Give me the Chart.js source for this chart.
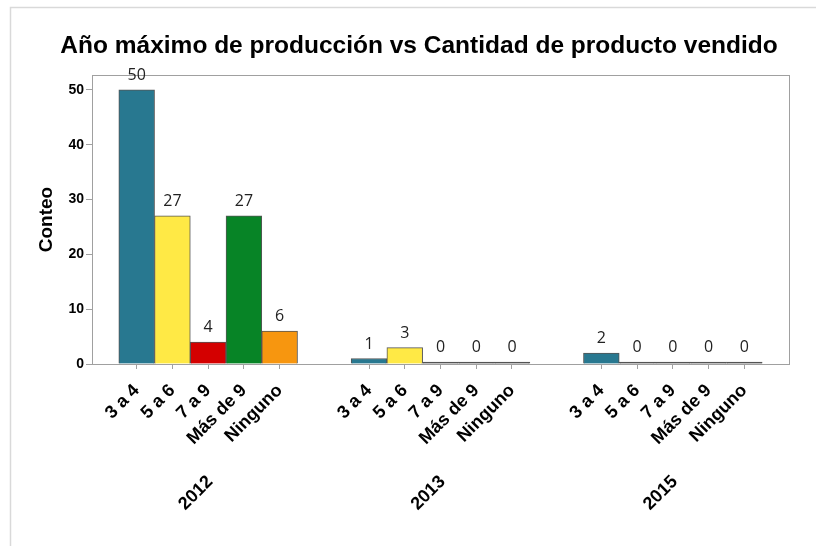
<!DOCTYPE html>
<html lang="es">
<head>
<meta charset="UTF-8">
<title>Año máximo de producción vs Cantidad de producto vendido</title>
<script src="https://cdn.jsdelivr.net/npm/chart.js@4.4.1/dist/chart.umd.min.js"></script>
<style>
    body { margin: 0; background: #fff; }
    canvas { display: block; }
</style>
</head>
<body>
<canvas id="myChart" width="816" height="546"></canvas>
<script>
const years = ["2012", "2013", "2015"];
const categories = ["3 a 4", "5 a 6", "7 a 9", "Más de 9", "Ninguno"];
const counts2012 = [50, 27, 4, 27, 6];
const counts2013 = [1, 3, 0, 0, 0];
const counts2015 = [2, 0, 0, 0, 0];
const yTicks = [0, 10, 20, 30, 40, 50];
const categoryColors = ["#287890", "#ffe945", "#d40000", "#078426", "#f7960f"];

const countsByYear = [counts2012, counts2013, counts2015];
const groupStep = 6.5; // 5 bars + a gap of 1.5 bars between years

// Build the bar points (x = slot on the axis, y = count)
let points = [], barColors = [], tickLabels = {};
countsByYear.forEach((counts, g) => {
    counts.forEach((value, i) => {
        let slot = g * groupStep + i;
        points.push({ x: slot, y: value });
        barColors.push(categoryColors[i]);
        tickLabels[slot] = categories[i];
    });
});

const boldFont = "'Liberation Sans', Arial, sans-serif";

// Outer frame of the picture
const framePlugin = {
    id: "frame",
    beforeDraw(chart) {
        const ctx = chart.ctx;
        ctx.save();
        ctx.fillStyle = "#fff";
        ctx.fillRect(0, 0, chart.width, chart.height);
        ctx.strokeStyle = "#d9d9d9";
        ctx.lineWidth = 1.5;
        ctx.beginPath();
        ctx.moveTo(10.5, chart.height);
        ctx.lineTo(10.5, 7.5);
        ctx.lineTo(chart.width, 7.5);
        ctx.stroke();
        ctx.restore();
    }
};

// Plot box, value labels, titles and year labels
const labelsPlugin = {
    id: "labels",
    afterDraw(chart) {
        const ctx = chart.ctx;
        const area = chart.chartArea;
        const xScale = chart.scales.x;
        ctx.save();

        ctx.strokeStyle = "#a0a0a0";
        ctx.lineWidth = 1;
        ctx.strokeRect(area.left + 0.5, area.top + 0.5, area.right - area.left, area.bottom - area.top);

        // values above the bars
        ctx.fillStyle = "#222";
        ctx.font = "16px 'Open Sans', sans-serif";
        ctx.textAlign = "center";
        ctx.textBaseline = "alphabetic";
        chart.getDatasetMeta(0).data.forEach((bar, i) => {
            ctx.fillText(points[i].y, bar.x, bar.y - 10);
        });

        // main title
        ctx.fillStyle = "#000";
        ctx.font = "bold 24.5px " + boldFont;
        ctx.fillText("Año máximo de producción vs Cantidad de producto vendido", 419, 53);

        // y axis title
        ctx.save();
        ctx.translate(52, (area.top + area.bottom) / 2);
        ctx.rotate(-Math.PI / 2);
        ctx.font = "bold 19px " + boldFont;
        ctx.fillText("Conteo", 0, 0);
        ctx.restore();

        // year labels under each group
        ctx.font = "bold 18px " + boldFont;
        ctx.textAlign = "right";
        ctx.textBaseline = "middle";
        years.forEach((year, g) => {
            let cx = xScale.getPixelForValue(g * groupStep + 2);
            ctx.save();
            ctx.translate(cx + 2, area.bottom + 115);
            ctx.rotate(-Math.PI / 4);
            ctx.fillText(year, 0, 0);
            ctx.restore();
        });

        ctx.restore();
    }
};

const ctx = document.getElementById("myChart").getContext("2d");
const myChart = new Chart(ctx, {
    type: "bar",
    data: {
        datasets: [{
            data: points,
            // empty bars show only as a dark line on the base
            backgroundColor: c => (c.raw && c.raw.y === 0) ? "#555" : barColors[c.dataIndex],
            borderColor: "#555",
            borderWidth: 1,
            barPercentage: 1,
            categoryPercentage: 1,
            minBarLength: 2
        }]
    },
    options: {
        responsive: false,
        animation: false,
        devicePixelRatio: 1,
        layout: { padding: { top: 75, right: 27, left: 0, bottom: 0 } },
        plugins: {
            legend: { display: false },
            tooltip: { enabled: false }
        },
        scales: {
            x: {
                type: "linear",
                offset: false,
                min: -1.25,
                max: 2 * groupStep + 4 + 1.25,
                afterBuildTicks: scale => {
                    scale.ticks = points.map(p => ({ value: p.x }));
                },
                afterFit: scale => { scale.height = 182; },
                ticks: {
                    autoSkip: false,
                    minRotation: 45,
                    maxRotation: 45,
                    padding: 11,
                    color: "#000",
                    font: { family: boldFont, size: 18, weight: "bold" },
                    callback: value => tickLabels[value]
                },
                grid: { drawOnChartArea: false, offset: false, tickLength: 5, color: "#a0a0a0" },
                border: { color: "#a0a0a0" }
            },
            y: {
                min: 0,
                max: 52.7,
                afterBuildTicks: scale => {
                    scale.ticks = yTicks.map(v => ({ value: v }));
                },
                afterFit: scale => { scale.width = 92; },
                ticks: {
                    padding: 2,
                    color: "#000",
                    font: { family: boldFont, size: 14, weight: "bold" }
                },
                grid: { drawOnChartArea: false, tickLength: 6, color: "#a0a0a0" },
                border: { color: "#a0a0a0" }
            }
        }
    },
    plugins: [framePlugin, labelsPlugin]
});
</script>
</body>
</html>
